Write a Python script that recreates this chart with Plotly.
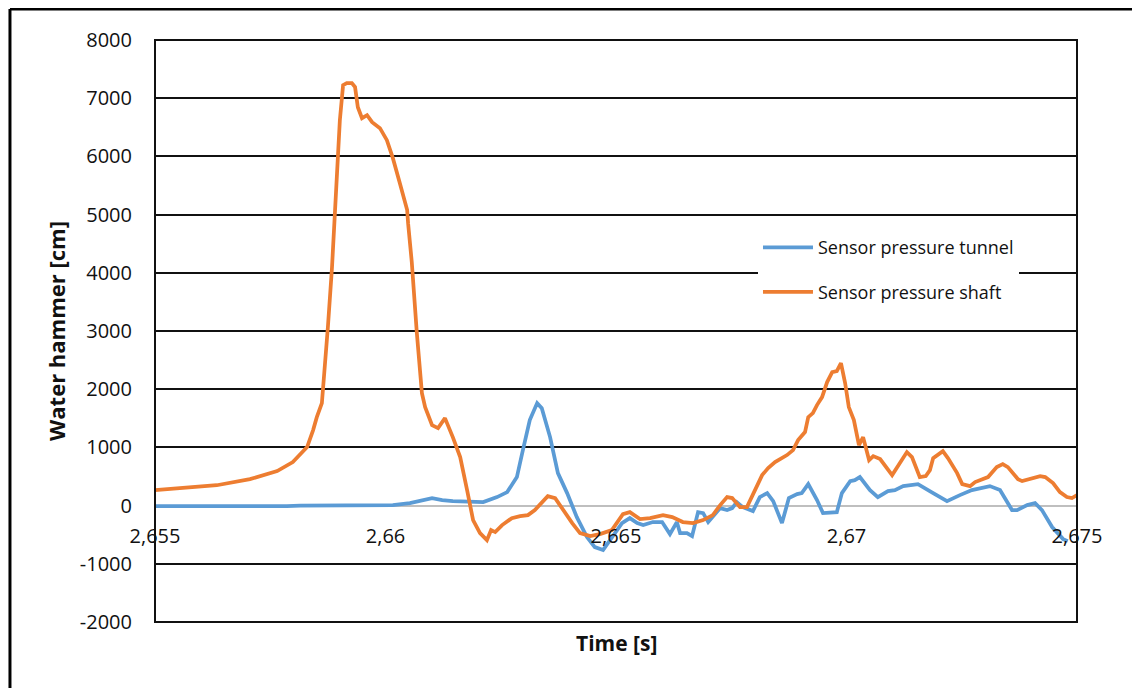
import plotly.graph_objects as go

# ---- data (time in s, water hammer in cm) ----
shaft_t = [2.65500, 2.65561, 2.65634, 2.65706, 2.65765, 2.65799, 2.65830, 2.65843, 2.65851, 2.65862,
           2.65869, 2.65875, 2.65884, 2.65890, 2.65897, 2.65901, 2.65906, 2.65908, 2.65916, 2.65927,
           2.65934, 2.65940, 2.65949, 2.65960, 2.65971, 2.65988, 2.66003, 2.66016, 2.66031, 2.66047,
           2.66049, 2.66057, 2.66068, 2.66079, 2.66086, 2.66101, 2.66114, 2.66129, 2.66146, 2.66162,
           2.66177, 2.66190, 2.66205, 2.66220, 2.66229, 2.66238, 2.66253, 2.66274, 2.66292, 2.66309,
           2.66324, 2.66339, 2.66352, 2.66368, 2.66385, 2.66405, 2.66422, 2.66444, 2.66465, 2.66491,
           2.66515, 2.66530, 2.66552, 2.66574, 2.66602, 2.66622, 2.66645, 2.66667, 2.66689, 2.66710,
           2.66726, 2.66741, 2.66752, 2.66769, 2.66784, 2.66802, 2.66817, 2.66830, 2.66845, 2.66871,
           2.66884, 2.66895, 2.66910, 2.66917, 2.66927, 2.66936, 2.66947, 2.66958, 2.66969, 2.66979,
           2.66988, 2.66997, 2.67005, 2.67016, 2.67027, 2.67036, 2.67042, 2.67049, 2.67058, 2.67073,
           2.67099, 2.67116, 2.67131, 2.67142, 2.67159, 2.67172, 2.67181, 2.67188, 2.67209, 2.67220,
           2.67240, 2.67251, 2.67268, 2.67279, 2.67294, 2.67307, 2.67326, 2.67339, 2.67350, 2.67372,
           2.67381, 2.67420, 2.67431, 2.67448, 2.67463, 2.67478, 2.67489, 2.67500]
shaft_v = [265, 300, 350, 455, 593, 747, 1005, 1297, 1520, 1761,
           2379, 3067, 4097, 5025, 6107, 6623, 7052, 7224, 7259, 7259,
           7190, 6846, 6657, 6709, 6589, 6485, 6279, 5970, 5541, 5077,
           4853, 4183, 2964, 1933, 1692, 1383, 1331, 1503, 1177, 833,
           266, -249, -472, -593, -421, -455, -335, -215, -180, -163,
           -77, 60, 163, 129, -77, -301, -472, -524, -490, -421,
           -146, -112, -232, -215, -163, -198, -283, -301, -249, -163,
           9, 146, 129, -26, -26, 266, 524, 644, 747, 868,
           954, 1125, 1263, 1520, 1589, 1727, 1864, 2122, 2294, 2311,
           2448, 2105, 1692, 1469, 1039, 1177, 1005, 782, 850, 799,
           524, 747, 919, 833, 490, 507, 610, 816, 936, 816,
           558, 369, 335, 404, 455, 490, 661, 713, 661, 455,
           421, 507, 490, 387, 232, 146, 129, 180]

tunnel_t = [2.65500, 2.65749, 2.65760, 2.65786, 2.65815, 2.66016, 2.66053, 2.66101, 2.66123, 2.66146,
            2.66212, 2.66242, 2.66264, 2.66285, 2.66298, 2.66313, 2.66329, 2.66339, 2.66357, 2.66374,
            2.66394, 2.66415, 2.66437, 2.66454, 2.66472, 2.66493, 2.66513, 2.66530, 2.66546, 2.66559,
            2.66580, 2.66600, 2.66617, 2.66632, 2.66639, 2.66654, 2.66665, 2.66678, 2.66689, 2.66700,
            2.66710, 2.66726, 2.66741, 2.66752, 2.66762, 2.66775, 2.66797, 2.66812, 2.66828, 2.66841,
            2.66860, 2.66875, 2.66893, 2.66903, 2.66917, 2.66936, 2.66949, 2.66979, 2.66990, 2.67008,
            2.67018, 2.67029, 2.67051, 2.67068, 2.67090, 2.67105, 2.67123, 2.67155, 2.67188, 2.67218,
            2.67246, 2.67272, 2.67311, 2.67333, 2.67359, 2.67370, 2.67392, 2.67409, 2.67424, 2.67446,
            2.67470, 2.67480]
tunnel_v = [-10, -10, -26, -10, 0, 9, 43, 129, 95, 77,
            60, 146, 232, 490, 954, 1469, 1761, 1675, 1177, 558,
            215, -198, -541, -713, -765, -541, -301, -215, -301, -335,
            -283, -283, -490, -283, -472, -472, -524, -112, -129, -283,
            -198, -43, -77, -43, 60, -26, -94, 146, 215, 77,
            -301, 129, 198, 215, 369, 95, -129, -112, 215, 421,
            438, 490, 266, 146, 249, 266, 335, 369, 215, 77,
            180, 266, 335, 266, -77, -77, 9, 43, -77, -369,
            -576, -610]

series_names = ["Sensor pressure tunnel", "Sensor pressure shaft"]
series_colors = ["#5B9BD5", "#ED7D31"]

x_tickvals = [2.655, 2.66, 2.665, 2.67, 2.675]
x_ticktext = ["2,655", "2,66", "2,665", "2,67", "2,675"]
y_tickvals = [-2000, -1000, 0, 1000, 2000, 3000, 4000, 5000, 6000, 7000, 8000]
y_ticktext = ["-2000", "-1000", "0", "1000", "2000", "3000", "4000", "5000", "6000", "7000", "8000"]

FONT = "Open Sans, Noto Sans, sans-serif"

fig = go.Figure()
fig.add_trace(go.Scatter(x=tunnel_t, y=tunnel_v, mode="lines", name=series_names[0],
                         legendgroup="a",
                         line=dict(color=series_colors[0], width=3.75)))
fig.add_trace(go.Scatter(x=shaft_t, y=shaft_v, mode="lines", name=series_names[1],
                         legendgroup="b",
                         line=dict(color=series_colors[1], width=3.75)))

fig.update_layout(
    width=1132, height=680,
    margin=dict(l=147, r=63, t=32, b=66),
    paper_bgcolor="white", plot_bgcolor="white",
    font=dict(family=FONT, size=20, color="#111"),
    showlegend=True,
    legend=dict(x=0.654, y=0.675, xanchor="left", yanchor="top",
                bgcolor="white", borderwidth=0,
                font=dict(family=FONT, size=18, color="#111"),
                tracegroupgap=18, itemwidth=50),
    xaxis=dict(range=[2.655, 2.675], tickvals=x_tickvals, ticktext=x_ticktext,
               showgrid=False, zeroline=False, showline=False, ticks="",
               anchor="free", position=0.2, ticklabelstandoff=16,
               tickfont=dict(size=20)),
    yaxis=dict(range=[-2000, 8000], tickvals=y_tickvals, ticktext=y_ticktext,
               showgrid=True, gridcolor="#111", gridwidth=2,
               zeroline=True, zerolinecolor="#BFBFBF", zerolinewidth=2,
               showline=False, ticks="", ticklabelstandoff=22,
               tickfont=dict(size=20)),
    shapes=[
        dict(type="rect", xref="paper", yref="paper", x0=0, x1=1, y0=0, y1=1,
             line=dict(color="#111", width=2), layer="above"),
        dict(type="line", xref="paper", yref="paper", x0=-0.1573, x1=-0.1573, y0=-0.3, y1=1.0533,
             line=dict(color="black", width=3), layer="above"),
        dict(type="line", xref="paper", yref="paper", x0=-0.1573, x1=1.3, y0=1.0533, y1=1.0533,
             line=dict(color="black", width=3), layer="above"),
    ],
    annotations=[
        dict(text="<b>Time [s]</b>", xref="paper", yref="paper", x=0.5, y=-0.036,
             xanchor="center", yanchor="middle", showarrow=False,
             font=dict(family=FONT, size=21, color="#111")),
        dict(text="<b>Water hammer [cm]</b>", xref="paper", yref="paper", x=-0.1074, y=0.5,
             xanchor="center", yanchor="middle", textangle=-90, showarrow=False,
             font=dict(family=FONT, size=22, color="#111")),
    ],
)

fig.write_html("out.html")
